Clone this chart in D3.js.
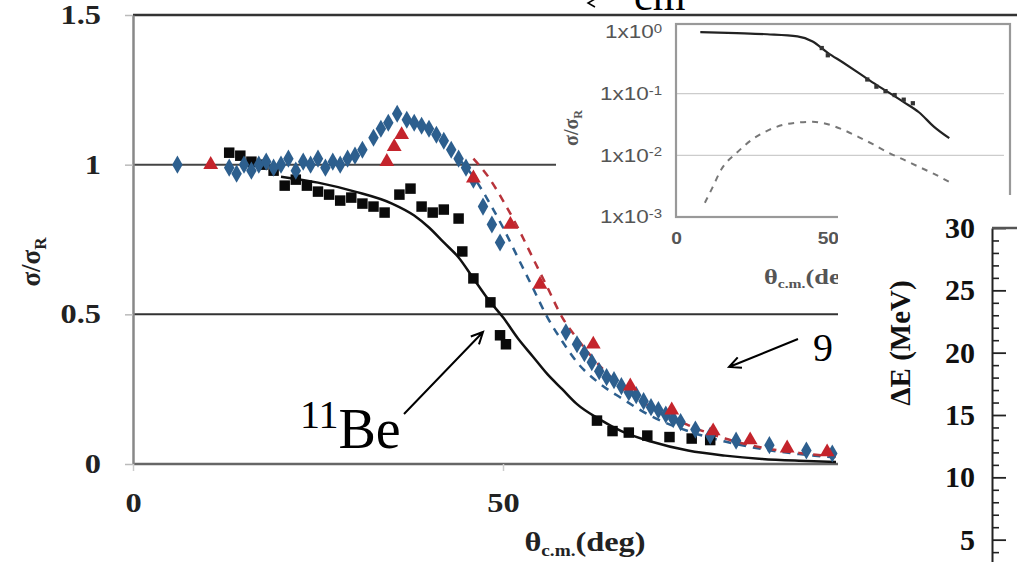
<!DOCTYPE html>
<html><head><meta charset="utf-8">
<script src="https://cdn.jsdelivr.net/npm/d3@7"></script>
<style>body{margin:0;background:#fff}svg{display:block}</style>
</head><body>
<svg id="c" width="1017" height="562"></svg>
<script>
// ---------- DATA ----------
const mainXTicks = [0, 50];
const mainYTicks = [0, 0.5, 1, 1.5];
// 11Be data (black squares) [theta, sigma/sigmaR]
const be11Data = [[13,1.04],[14.5,1.03],[16,1.01],[17.5,1.0],[19,0.98],[20.5,0.93],[22,0.95],[23.5,0.93],[25,0.91],[26.5,0.9],[28,0.88],[29.5,0.89],[31,0.87],[32.5,0.86],[34,0.84],[36,0.9],[37.5,0.92],[39,0.86],[40.5,0.84],[42,0.85],[44,0.82],[44.5,0.71],[46,0.62],[48.3,0.54],[49.6,0.43],[50.4,0.4],[62.7,0.145],[64.8,0.11],[67,0.105],[69.5,0.095],[72.5,0.09],[75.5,0.085],[78,0.08]];
// blue data (diamonds)
const blueData = [[6,1.0],[13,0.99],[14,0.97],[15,1.0],[16,0.98],[17,1.0],[18,1.01],[19,0.99],[20,1.0],[21,1.02],[22,0.98],[23,1.01],[24,1.0],[25,1.02],[26,0.99],[27,1.01],[28,1.0],[29,1.02],[30,1.03],[31,1.05],[32.5,1.09],[33.5,1.12],[34.5,1.14],[35.7,1.17],[37,1.15],[38,1.14],[39,1.13],[40,1.12],[41,1.1],[42,1.08],[43,1.05],[44,1.02],[45,0.99],[46,0.95],[47.3,0.86],[48.5,0.8],[49.6,0.74],[58.5,0.44],[60,0.4],[61,0.37],[62,0.34],[63,0.31],[64,0.29],[65,0.28],[66,0.26],[67,0.24],[68,0.23],[69,0.21],[70,0.19],[71,0.18],[72,0.165],[73,0.15],[74,0.14],[76,0.115],[78,0.095],[81.5,0.078],[86,0.063],[91,0.045],[94.5,0.035]];
// red data (triangles)
const redData = [[10.5,1.0],[34.3,1.01],[35.3,1.06],[36.3,1.1],[46,0.955],[51,0.8],[55,0.6],[62.2,0.4],[67.2,0.26],[72.8,0.18],[78.4,0.11],[83.4,0.08],[88.4,0.053],[93.8,0.04]];
// calculations
const be11Calc = [[20,0.96],[25,0.94],[30,0.91],[35,0.87],[38,0.83],[40,0.79],[42,0.74],[44,0.69],[46,0.62],[48,0.55],[50,0.49],[52,0.42],[54,0.36],[56,0.3],[58,0.25],[60,0.2],[63,0.15],[66,0.11],[70,0.075],[75,0.045],[80,0.028],[85,0.017],[90,0.011],[95,0.007]];
const blueCalc = [[44,1.02],[46,0.96],[48,0.88],[50,0.79],[52,0.69],[54,0.59],[56,0.49],[58,0.41],[60,0.34],[63,0.27],[66,0.22],[70,0.16],[75,0.11],[80,0.075],[85,0.05],[90,0.033],[95,0.022]];
const redCalc = [[46,1.02],[48,0.96],[50,0.88],[52,0.79],[54,0.69],[56,0.59],[58,0.49],[60,0.42],[63,0.33],[66,0.26],[70,0.19],[75,0.13],[80,0.085],[85,0.055],[90,0.037],[95,0.025]];
// inset (log scale)
const insetXTicks = [0, 50];
const insetYTicks = [1e-3, 1e-2, 1e-1, 1];
const insetGrid = [1e-2, 1e-1];
const insetSolid = [[8,1.0],[20,0.96],[30,0.92],[40,0.85],[45,0.7],[50,0.46],[55,0.32],[60,0.22],[65,0.15],[70,0.105],[75,0.073],[80,0.05],[85,0.029],[90,0.019]];
const insetDashed = [[9.5,0.0017],[12,0.003],[15,0.006],[20,0.011],[25,0.018],[30,0.025],[35,0.031],[40,0.034],[45,0.035],[50,0.032],[55,0.026],[60,0.02],[65,0.015],[70,0.011],[75,0.0085],[80,0.0065],[85,0.005],[90,0.0037]];
const insetPoints = [[48,0.55],[50,0.42],[63,0.17],[66,0.13],[69,0.11],[72,0.095],[75,0.08],[78,0.07]];
// right panel Delta E axis
const deMajor = [5, 10, 15, 20, 25, 30];
const deMinor = [1,2,3,4,6,7,8,9,11,12,13,14,16,17,18,19,21,22,23,24,26,27,28,29];

// ---------- DRAW ----------
const svg = d3.select("#c");
const SERIF = "'Liberation Serif','Times New Roman',serif";
const SANS = "'Liberation Sans',Arial,sans-serif";
function stretch(sel, s){
  sel.each(function(){ const t=d3.select(this); const xv=+t.attr("x")||0; t.attr("x", xv/s).attr("transform", `scale(${s},1)`); });
}

const x = d3.scaleLinear().domain([0,50]).range([133,503]);
const y = d3.scaleLinear().domain([0,1.5]).range([464,15]);

// reference lines
svg.append("line").attr("x1",x(0)).attr("x2",1017).attr("y1",y(1.5)).attr("y2",y(1.5)).attr("stroke","#333").attr("stroke-width",2.5);
svg.append("line").attr("x1",x(0)).attr("x2",x(100)).attr("y1",y(1)).attr("y2",y(1)).attr("stroke","#444").attr("stroke-width",2);
svg.append("line").attr("x1",x(0)).attr("x2",x(100)).attr("y1",y(0.5)).attr("y2",y(0.5)).attr("stroke","#333").attr("stroke-width",2);
svg.append("line").attr("x1",x(0)).attr("x2",x(100)).attr("y1",y(0)).attr("y2",y(0)).attr("stroke","#666").attr("stroke-width",2.5);

// axes
const ya = svg.append("g").attr("transform",`translate(${x(0)},0)`)
  .call(d3.axisLeft(y).tickValues(mainYTicks).tickFormat(d=>String(d)).tickSize(8).tickSizeOuter(0).tickPadding(24));
ya.select(".domain").attr("stroke","#888").attr("stroke-width",2.5);
ya.selectAll(".tick line").attr("stroke","#bbb").attr("stroke-width",1.5);
ya.selectAll("text").attr("font-family",SERIF).attr("font-weight","bold").attr("font-size",27).attr("fill","#222");
stretch(ya.selectAll("text"),1.2);

const xa = svg.append("g").attr("transform",`translate(0,${y(0)})`)
  .call(d3.axisBottom(x).tickValues(mainXTicks).tickFormat(d=>String(d)).tickSize(7).tickSizeOuter(0).tickPadding(22));
xa.select(".domain").remove();
xa.selectAll(".tick line").attr("stroke","#ccc").attr("stroke-width",1.5);
xa.selectAll("text").attr("font-family",SERIF).attr("font-weight","bold").attr("font-size",27).attr("fill","#222");
stretch(xa.selectAll("text"),1.2);

// axis titles
const xt = svg.append("g").attr("transform","translate(585,551)").append("text")
  .attr("text-anchor","middle").attr("font-family",SERIF).attr("font-weight","bold").attr("font-size",27).attr("fill","#222").attr("transform","scale(1.2,1)");
xt.append("tspan").text("θ");
xt.append("tspan").attr("font-size",16).attr("dy",5).text("c.m.");
xt.append("tspan").attr("dy",-5).text("(deg)");

const yt = svg.append("g").attr("transform","translate(40,262) rotate(-90)").append("text")
  .attr("text-anchor","middle").attr("font-family",SERIF).attr("font-weight","bold").attr("font-size",27).attr("fill","#222");
yt.append("tspan").text("σ/σ");
yt.append("tspan").attr("font-size",17).attr("dy",6).text("R");

// curves
const lineMain = d3.line().x(d=>x(d[0])).y(d=>y(d[1])).curve(d3.curveMonotoneX);
svg.append("path").datum(blueCalc).attr("d",lineMain).attr("fill","none").attr("stroke","#2d5f8e").attr("stroke-width",2.5).attr("stroke-dasharray","8,7");
svg.append("path").datum(redCalc).attr("d",lineMain).attr("fill","none").attr("stroke","#b8333a").attr("stroke-width",2.5).attr("stroke-dasharray","8,7");
svg.append("path").datum(be11Calc).attr("d",lineMain).attr("fill","none").attr("stroke","#111").attr("stroke-width",2.5);

// points
svg.append("g").selectAll("path").data(be11Data).join("path")
  .attr("d",d3.symbol(d3.symbolSquare,110)).attr("transform",d=>`translate(${x(d[0])},${y(d[1])})`).attr("fill","#0a0a0a");
svg.append("g").selectAll("path").data(blueData).join("path")
  .attr("d",d3.symbol(d3.symbolDiamond,95)).attr("transform",d=>`translate(${x(d[0])},${y(d[1])})`).attr("fill","#2d5f8e");
svg.append("g").selectAll("path").data(redData).join("path")
  .attr("d",d3.symbol(d3.symbolTriangle,95)).attr("transform",d=>`translate(${x(d[0])},${y(d[1])})`).attr("fill","#c4242c");

// annotations
function arrow(x1,y1,x2,y2){
  const a=Math.atan2(y2-y1,x2-x1), L=13, s=0.45;
  svg.append("path").attr("d",`M${x1},${y1}L${x2},${y2}M${x2-L*Math.cos(a-s)},${y2-L*Math.sin(a-s)}L${x2},${y2}L${x2-L*Math.cos(a+s)},${y2-L*Math.sin(a+s)}`)
    .attr("fill","none").attr("stroke","#000").attr("stroke-width",2);
}
arrow(404,414,483,332);
arrow(798,339,729,367);
const be = svg.append("text").attr("x",300).attr("y",448).attr("font-family",SERIF).attr("fill","#000");
be.append("tspan").attr("font-size",40).attr("dy",-20).text("11");
be.append("tspan").attr("font-size",56).attr("dy",20).text("Be");
svg.append("text").attr("x",813).attr("y",361).attr("font-family",SERIF).attr("font-size",40).attr("fill","#000").text("9");

// ---------- INSET ----------
svg.append("rect").attr("x",556).attr("y",17).attr("width",461).attr("height",280).attr("fill","#fff");
const xi = d3.scaleLinear().domain([0,110]).range([676,1010]);
const yi = d3.scaleLog().domain([1e-3,1.35]).range([217,24]);
svg.append("g").selectAll("line").data(insetGrid).join("line")
  .attr("x1",xi(0)).attr("x2",xi(108)).attr("y1",d=>yi(d)).attr("y2",d=>yi(d)).attr("stroke","#ccc").attr("stroke-width",1.2);
svg.append("rect").attr("x",xi(0)).attr("y",yi(1.35)).attr("width",xi(110)-xi(0)).attr("height",yi(1e-3)-yi(1.35))
  .attr("fill","none").attr("stroke","#999").attr("stroke-width",2.2);
const yia = svg.append("g").attr("transform",`translate(${xi(0)},0)`)
  .call(d3.axisLeft(yi).tickValues(insetYTicks).tickSize(0).tickPadding(14).tickFormat(""));
yia.select(".domain").remove();
yia.selectAll("text").each(function(d){
  const t=d3.select(this);
  t.append("tspan").text("1x10");
  t.append("tspan").attr("dy","-0.45em").attr("font-size",12).text(String(Math.round(Math.log10(d))));
}).attr("font-family",SANS).attr("font-size",18).attr("fill","#555");
stretch(yia.selectAll("text"),1.25);
const xia = svg.append("g").attr("transform",`translate(0,${yi(1e-3)})`)
  .call(d3.axisBottom(xi).tickValues(insetXTicks).tickSize(0).tickPadding(16).tickFormat(d=>String(d)));
xia.select(".domain").remove();
xia.selectAll("text").attr("font-family",SANS).attr("font-weight","bold").attr("font-size",16).attr("fill","#555");
stretch(xia.selectAll("text"),1.2);
const xit = svg.append("g").attr("transform","translate(764,284)").append("text")
  .attr("font-family",SERIF).attr("font-weight","bold").attr("font-size",22).attr("fill","#555").attr("transform","scale(1.2,1)");
xit.append("tspan").text("θ");
xit.append("tspan").attr("font-size",13).attr("dy",4).text("c.m.");
xit.append("tspan").attr("dy",-4).text("(deg)");
const yit = svg.append("g").attr("transform","translate(578,128) rotate(-90)").append("text")
  .attr("text-anchor","middle").attr("font-family",SERIF).attr("font-weight","bold").attr("font-size",20).attr("fill","#555");
yit.append("tspan").text("σ/σ");
yit.append("tspan").attr("font-size",12).attr("dy",4).text("R");

const lineIn = d3.line().x(d=>xi(d[0])).y(d=>yi(d[1])).curve(d3.curveMonotoneX);
svg.append("path").datum(insetDashed).attr("d",lineIn).attr("fill","none").attr("stroke","#777").attr("stroke-width",2).attr("stroke-dasharray","6,6");
svg.append("path").datum(insetSolid).attr("d",lineIn).attr("fill","none").attr("stroke","#222").attr("stroke-width",2.2);
svg.append("g").selectAll("path").data(insetPoints).join("path")
  .attr("d",d3.symbol(d3.symbolSquare,18)).attr("transform",d=>`translate(${xi(d[0])},${yi(d[1])})`).attr("fill","#333");

// top partial text
svg.append("path").attr("d","M595,-1L588,3L595,7").attr("fill","none").attr("stroke","#000").attr("stroke-width",1.5);
svg.append("text").attr("x",634).attr("y",10).attr("font-family",SERIF).attr("font-size",42).attr("fill","#000").text("cm");

// ---------- RIGHT PANEL ----------
svg.append("rect").attr("x",838).attr("y",195).attr("width",179).attr("height",367).attr("fill","#fff");
const yd = d3.scaleLinear().domain([0,30]).range([602,228]);
const dmin = svg.append("g").attr("transform","translate(992,0)")
  .call(d3.axisLeft(yd).tickValues(deMinor).tickSize(-7).tickSizeOuter(0).tickFormat(""));
dmin.select(".domain").attr("stroke","#222").attr("stroke-width",2);
dmin.selectAll(".tick line").attr("stroke","#222").attr("stroke-width",1.6);
const dmaj = svg.append("g").attr("transform","translate(992,0)")
  .call(d3.axisLeft(yd).tickValues(deMajor).tickSize(-14).tickSizeOuter(0).tickPadding(17).tickFormat(d=>String(d)));
dmaj.select(".domain").remove();
dmaj.selectAll(".tick line").attr("stroke","#222").attr("stroke-width",1.8);
dmaj.selectAll("text").attr("font-family",SERIF).attr("font-weight","bold").attr("font-size",30).attr("fill","#111");
svg.append("line").attr("x1",992).attr("x2",1017).attr("y1",yd(30)).attr("y2",yd(30)).attr("stroke","#555").attr("stroke-width",2.5);
svg.append("text").attr("transform","translate(910,343) rotate(-90)").attr("text-anchor","middle")
  .attr("font-family",SERIF).attr("font-weight","bold").attr("font-size",29).attr("fill","#111").text("ΔE (MeV)");
</script>
</body></html>
